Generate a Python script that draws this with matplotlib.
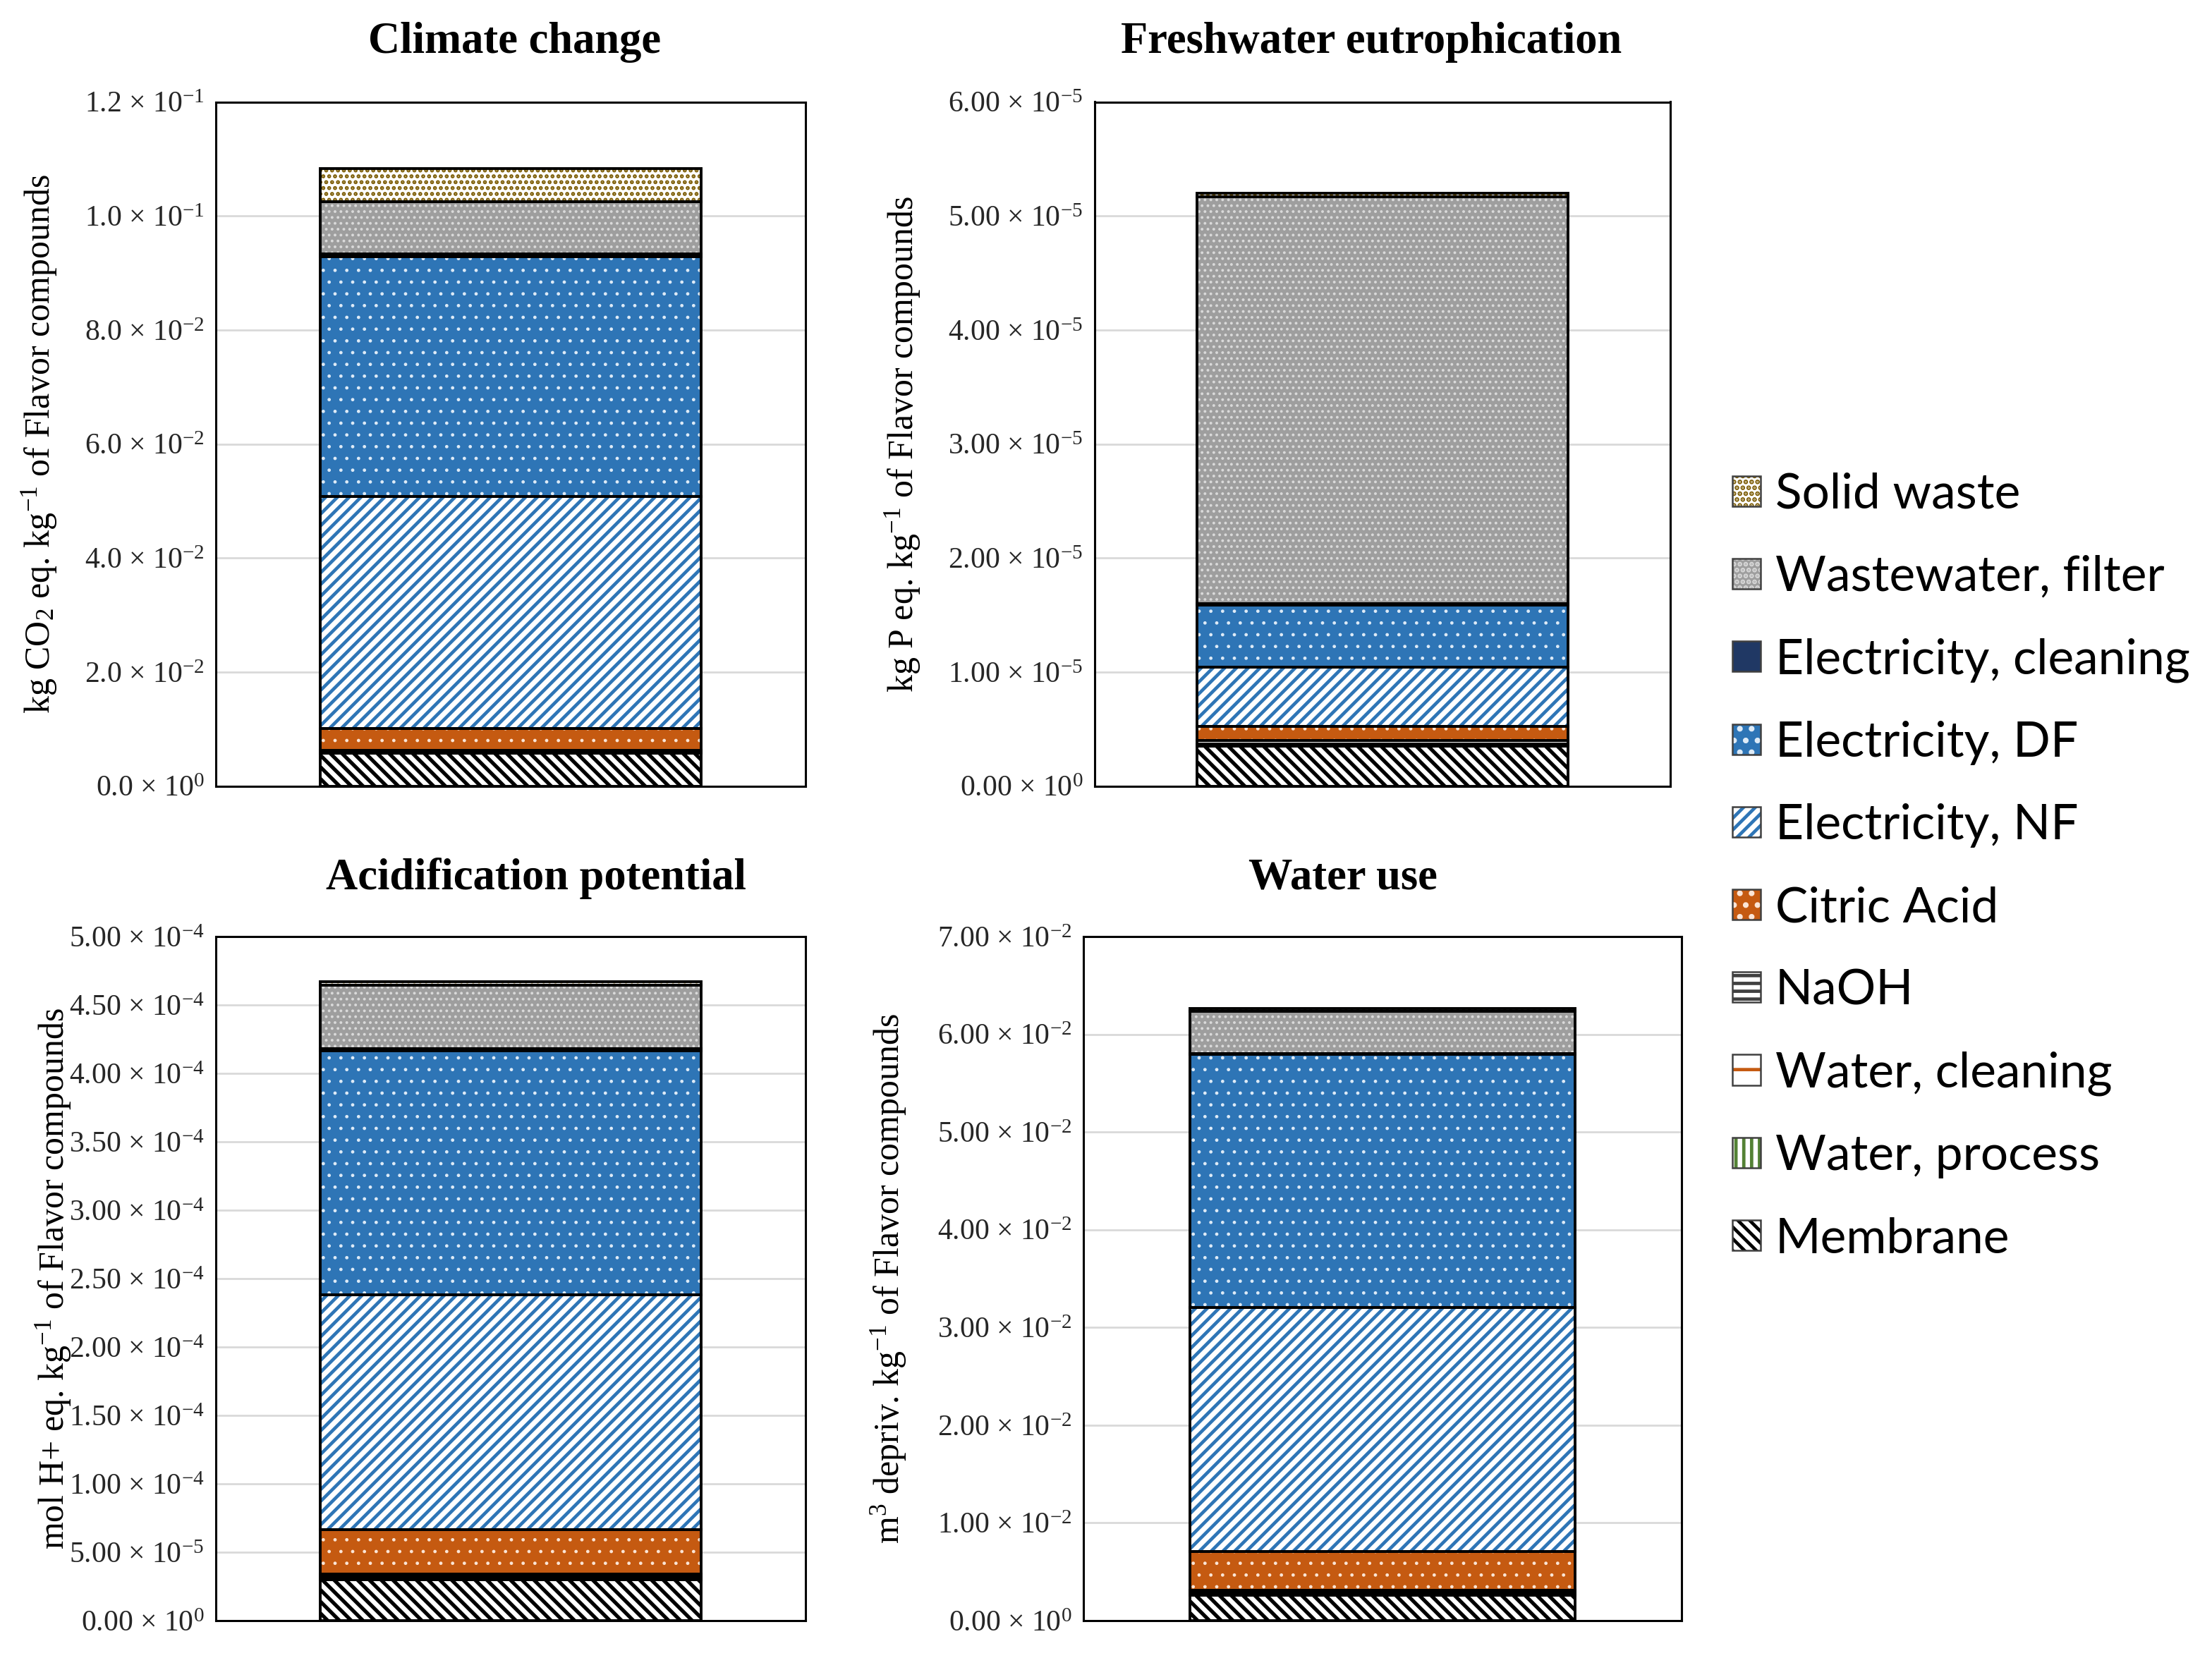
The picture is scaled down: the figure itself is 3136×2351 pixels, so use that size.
import matplotlib
matplotlib.use('Agg')
import matplotlib.pyplot as plt
from matplotlib.patches import Patch

plt.rcParams['mathtext.default'] = 'regular'
plt.rcParams['hatch.linewidth'] = 1.7

# ---------------- data ----------------
components = ['Membrane', 'Water, process', 'Water, cleaning', 'NaOH', 'Citric Acid',
              'Electricity, NF', 'Electricity, DF', 'Electricity, cleaning',
              'Wastewater, filter', 'Solid waste']

climate = [5.75e-3, 1e-4, 1e-4, 3e-4, 3.83e-3, 4.07e-2, 4.21e-2, 5e-4, 9.1e-3, 5.8e-3]
freshwater = [3.49e-6, 1e-7, 1e-7, 3e-7, 1.24e-6, 5.19e-6, 5.45e-6, 1e-7, 3.57e-5, 3.5e-7]
acidification = [3.0e-5, 1e-6, 1e-6, 2e-6, 3.25e-5, 1.715e-4, 1.785e-4, 1.5e-6, 4.64e-5, 2.5e-6]
water_use = [2.6e-3, 1.5e-4, 1.5e-4, 2e-4, 3.97e-3, 2.497e-2, 2.59e-2, 1e-4, 4.3e-3, 3e-4]

titles = ['Climate change', 'Freshwater eutrophication', 'Acidification potential', 'Water use']
ylabels = ['kg CO$_2$ eq. kg$^{-1}$ of Flavor compounds',
           'kg P eq. kg$^{-1}$ of Flavor compounds',
           'mol H+ eq. kg$^{-1}$ of Flavor compounds',
           'm$^3$ depriv. kg$^{-1}$ of Flavor compounds']

climate_ticks = [0, 0.02, 0.04, 0.06, 0.08, 0.10, 0.12]
climate_ticklabels = ['0.0 × 10$^{0}$', '2.0 × 10$^{-2}$', '4.0 × 10$^{-2}$', '6.0 × 10$^{-2}$',
                      '8.0 × 10$^{-2}$', '1.0 × 10$^{-1}$', '1.2 × 10$^{-1}$']
fresh_ticks = [0, 1e-5, 2e-5, 3e-5, 4e-5, 5e-5, 6e-5]
fresh_ticklabels = ['0.00 × 10$^{0}$', '1.00 × 10$^{-5}$', '2.00 × 10$^{-5}$', '3.00 × 10$^{-5}$',
                    '4.00 × 10$^{-5}$', '5.00 × 10$^{-5}$', '6.00 × 10$^{-5}$']
acid_ticks = [0, 5e-5, 1e-4, 1.5e-4, 2e-4, 2.5e-4, 3e-4, 3.5e-4, 4e-4, 4.5e-4, 5e-4]
acid_ticklabels = ['0.00 × 10$^{0}$', '5.00 × 10$^{-5}$', '1.00 × 10$^{-4}$', '1.50 × 10$^{-4}$',
                   '2.00 × 10$^{-4}$', '2.50 × 10$^{-4}$', '3.00 × 10$^{-4}$', '3.50 × 10$^{-4}$',
                   '4.00 × 10$^{-4}$', '4.50 × 10$^{-4}$', '5.00 × 10$^{-4}$']
water_ticks = [0, 0.01, 0.02, 0.03, 0.04, 0.05, 0.06, 0.07]
water_ticklabels = ['0.00 × 10$^{0}$', '1.00 × 10$^{-2}$', '2.00 × 10$^{-2}$', '3.00 × 10$^{-2}$',
                    '4.00 × 10$^{-2}$', '5.00 × 10$^{-2}$', '6.00 × 10$^{-2}$', '7.00 × 10$^{-2}$']

# ---------------- styles ----------------
styles = {
    'Membrane':              dict(face='white',   hc='black',   hatch='\\\\\\\\', hlw=1.9),
    'Water, process':        dict(face='white',   hc='#548235', hatch='|||',  hlw=1.7),
    'Water, cleaning':       dict(face='white',   hc='#C55A11', hatch='-',    hlw=1.2),
    'NaOH':                  dict(face='white',   hc='#404040', hatch='---',  hlw=1.0),
    'Citric Acid':           dict(face='#C55A11', hc='#FBE5D6', hatch='..',   hlw=0.5),
    'Electricity, NF':       dict(face='white',   hc='#2E75B6', hatch='////', hlw=1.7),
    'Electricity, DF':       dict(face='#2E75B6', hc='#DEEBF7', hatch='..',   hlw=0.5),
    'Electricity, cleaning': dict(face='#203864', hc='#203864', hatch=None,   hlw=1.0),
    'Wastewater, filter':    dict(face='#9E9E9E', hc='#DADADA', hatch='....', hlw=0.8),
    'Solid waste':           dict(face='white',   hc='#7A5A00', hatch='....', hlw=1.4),
}


def make_patch_style(artist, st):
    if hasattr(artist, 'set_hatch_linewidth'):
        artist.set_hatch_linewidth(st['hlw'])


W, H = 3136, 2351
fig = plt.figure(figsize=(W / 200, H / 200), dpi=200)

rects = [
    [306 / W, 1 - 1114.5 / H, 836 / W, 970 / H],
    [1552 / W, 1 - 1114.5 / H, 816 / W, 970 / H],
    [306 / W, 1 - 2298 / H, 836 / W, 970 / H],
    [1536 / W, 1 - 2298 / H, 848 / W, 970 / H],
]
datasets = [climate, freshwater, acidification, water_use]
ticks = [climate_ticks, fresh_ticks, acid_ticks, water_ticks]
ticklabels = [climate_ticklabels, fresh_ticklabels, acid_ticklabels, water_ticklabels]
title_x = [0.507, 0.48, 0.543, 0.434]
title_y = [1.087, 1.087, 1.085, 1.085]
ylabel_x = [56, 1280, 76, 1260]

serif = ['Liberation Serif', 'DejaVu Serif']

for i in range(4):
    ax = fig.add_axes(rects[i])
    vals = datasets[i]
    bottom = 0.0
    for name, v in zip(components, vals):
        st = styles[name]
        with plt.rc_context({'hatch.linewidth': st['hlw']}):
            bars = ax.bar(0, v, width=0.645, bottom=bottom, color=st['face'],
                          edgecolor=st['hc'], hatch=st['hatch'], linewidth=0, zorder=3)
        for b in bars:
            make_patch_style(b, st)
        ax.bar(0, v, width=0.645, bottom=bottom, fill=False,
               edgecolor='black', linewidth=1.4, zorder=4)
        bottom += v
    ax.set_xlim(-0.5, 0.5)
    ax.set_ylim(ticks[i][0], ticks[i][-1])
    ax.set_yticks(ticks[i])
    ax.set_yticklabels(ticklabels[i], family=serif, fontsize=15, color='#262626')
    ax.set_xticks([])
    ax.tick_params(axis='y', length=0, pad=6)
    ax.grid(axis='y', color='#D9D9D9', linewidth=1.0, zorder=0)
    ax.set_axisbelow(True)
    for sp in ax.spines.values():
        sp.set_linewidth(1.1)
        sp.set_color('black')
    ax.text(title_x[i], title_y[i], titles[i], transform=ax.transAxes,
            ha='center', va='center', family=serif, fontweight='bold', fontsize=22.5)
    ax.set_ylabel(ylabels[i], family=serif, fontsize=18, va='center')
    ax.yaxis.set_label_coords(ylabel_x[i] / W, rects[i][1] + rects[i][3] / 2,
                              transform=fig.transFigure)

# ---------------- legend ----------------
handles, labels = [], []
for name in reversed(components):
    st = styles[name]
    with plt.rc_context({'hatch.linewidth': st['hlw']}):
        p1 = Patch(facecolor=st['face'], edgecolor=st['hc'], hatch=st['hatch'], linewidth=0)
    make_patch_style(p1, st)
    p2 = Patch(fill=False, edgecolor='#404040', linewidth=0.9)
    handles.append((p1, p2))
    labels.append(name)

fig.legend(handles, labels, loc='center left', bbox_to_anchor=(2456 / W, 1 - 1229 / H),
           frameon=False, prop={'family': 'Lato', 'size': 25},
           handlelength=0.58, handleheight=0.58, handletextpad=0.3,
           labelspacing=0.78, borderpad=0, borderaxespad=0)

fig.savefig('out.png', dpi=200, facecolor='white')
